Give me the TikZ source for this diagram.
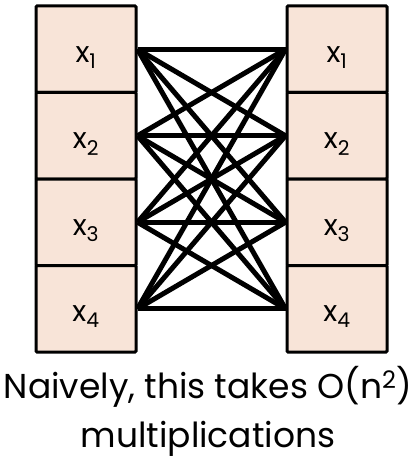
\documentclass[tikz,border=0pt]{standalone}
\usepackage{fontspec}
\setmainfont{Poppins}
\definecolor{boxfill}{HTML}{F8E4D8}
\begin{document}
\begin{tikzpicture}[x=1pt,y=1pt,
  cell/.style={draw=black,line width=3pt,fill=boxfill,minimum width=100pt,minimum height=86.5pt,inner sep=0pt,rounded corners=1pt},
  lbl/.style={font=\fontsize{29}{32}\selectfont,anchor=base},
  conn/.style={line width=5pt,line cap=butt},
  captxt/.style={font=\fontsize{34.5}{40}\selectfont,anchor=base}]
\useasboundingbox (0,0) rectangle (416,-468);
\foreach \i in {1,...,4}{
  \pgfmathsetmacro{\yc}{-(6+86.5*(\i-0.5))}
  \node[cell] (L\i) at (86,\yc) {};
  \node[cell] (R\i) at (337,\yc) {};
  \node[lbl] (LT\i) at (86,\yc-13) {x\textsubscript{\i}};
  \node[lbl] (RT\i) at (337,\yc-13) {x\textsubscript{\i}};
}
\foreach \i in {1,...,4}{
  \foreach \j in {1,...,4}{
    \draw[conn] (L\i.east) -- (R\j.west);
  }
}
\node[captxt] (c1) at (208,-398) {Naively, this takes O(n\textsuperscript{2})};
\node[captxt] (c2) at (208,-447) {multiplications};
\end{tikzpicture}
\end{document}
